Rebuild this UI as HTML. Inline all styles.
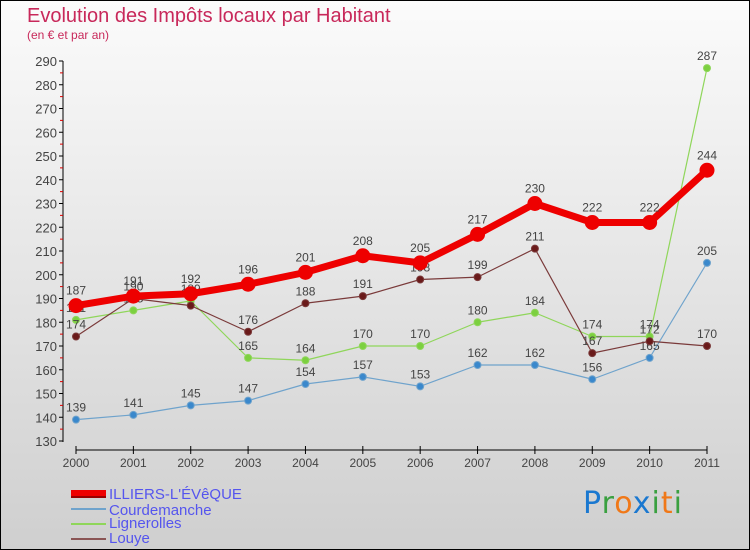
<!DOCTYPE html>
<html><head><meta charset="utf-8"><style>
body{margin:0}
#c{position:relative;width:748px;height:548px;border:1px solid #000;background:linear-gradient(#fbfbfb,#cfcfcf);font-family:"Liberation Sans",sans-serif;overflow:hidden}
.t{position:absolute;left:26px;top:4px;font-size:20px;color:#c8285a}
.s{position:absolute;left:26px;top:27px;font-size:12px;color:#c8285a}
.lg{position:absolute;left:108px;font-size:15px;color:#5555ee;line-height:15px}
.sw{position:absolute;left:70px;width:35px}
.px{position:absolute;left:582px;top:485px;font-size:30px;font-family:"DejaVu Sans",sans-serif;letter-spacing:1px}
</style></head><body>
<div id="c">
<div class="t">Evolution des Impôts locaux par Habitant</div>
<div class="s">(en € et par an)</div>
<svg id="p" width="748" height="548" style="position:absolute;left:0;top:0"></svg>
<div class="sw" style="top:489px;height:6px;background:#e00;border-bottom:2px solid #900"></div>
<div class="lg" style="top:486px">ILLIERS-L'ÉVêQUE</div>
<div class="sw" style="top:507px;height:2px;background:#6fa3cc"></div>
<div class="lg" style="top:502px">Courdemanche</div>
<div class="sw" style="top:522px;height:2px;background:#8fd65a"></div>
<div class="lg" style="top:515px">Lignerolles</div>
<div class="sw" style="top:537px;height:2px;background:#8a5555"></div>
<div class="lg" style="top:530px">Louye</div>
<div class="px"><span style="color:#1a78d0">P</span><span style="color:#3aa040">r</span><span style="color:#f07818">o</span><span style="color:#1a78d0">x</span><span style="color:#3aa040">i</span><span style="color:#f07818">t</span><span style="color:#3aa040">i</span></div>
</div>
<script>
const years=[2000,2001,2002,2003,2004,2005,2006,2007,2008,2009,2010,2011];
const illiers=[187,191,192,196,201,208,205,217,230,222,222,244];
const courdemanche=[139,141,145,147,154,157,153,162,162,156,165,205];
const lignerolles=[181,185,189,165,164,170,170,180,184,174,174,287];
const louye=[174,190,187,176,188,191,198,199,211,167,172,170];
const yTicks=[130,140,150,160,170,180,190,200,210,220,230,240,250,260,270,280,290];
const svg=document.getElementById('p');const NS='http://www.w3.org/2000/svg';
const x=i=>75+i*(631/11);const y=v=>440-(v-130)*380/160;
function mk(t,a,p){const e=document.createElementNS(NS,t);for(const k in a)e.setAttribute(k,a[k]);(p||svg).appendChild(e);return e;}
let ax=mk('line',{x1:62,y1:60,x2:62,y2:441,stroke:'#000'});


yTicks.forEach(v=>{mk('line',{x1:58,x2:62,y1:y(v),y2:y(v),stroke:'#000'});
 if(v<290)mk('line',{x1:59,x2:62,y1:y(v+5),y2:y(v+5),stroke:'#d00'});
 const t=mk('text',{x:56,y:y(v)+5,'text-anchor':'end','font-size':13,fill:'#444'});t.textContent=v;
 
 });
let xa=mk('line',{x1:75,y1:449,x2:706,y2:449,stroke:'#000'});


years.forEach((yr,i)=>{mk('line',{x1:x(i),x2:x(i),y1:445,y2:453,stroke:'#000'});
 const t=mk('text',{x:x(i),y:466,'text-anchor':'middle','font-size':12,fill:'#444'});t.textContent=yr;
 
 });
function series(d,name,col,w,r,dot){
 const g=mk('g',{});
 
 
 mk('polyline',{points:d.map((v,i)=>x(i)+','+y(v)).join(' '),fill:'none',stroke:col,'stroke-width':w,'stroke-linejoin':'round'},g);
 d.forEach((v,i)=>{const c=mk('circle',{cx:x(i),cy:y(v),r:r,fill:dot,stroke:col,'stroke-width':1},g);
  
  
  const t=mk('text',{x:x(i),y:y(v)-8-(r>5?3:0),'text-anchor':'middle','font-size':12,fill:'#444'},g);t.textContent=v;
  
  });
}
series(courdemanche,'courdemanche','#6fa3cc',1.2,3.5,'#3a88cc');
series(lignerolles,'lignerolles','#8fd65a',1.2,3.5,'#7cd040');
series(louye,'louye','#7a3a3a',1.2,3.5,'#6a1a1a');
series(illiers,'illiers','#ee0000',7,7,'#ee0000');
</script>
</body></html>
